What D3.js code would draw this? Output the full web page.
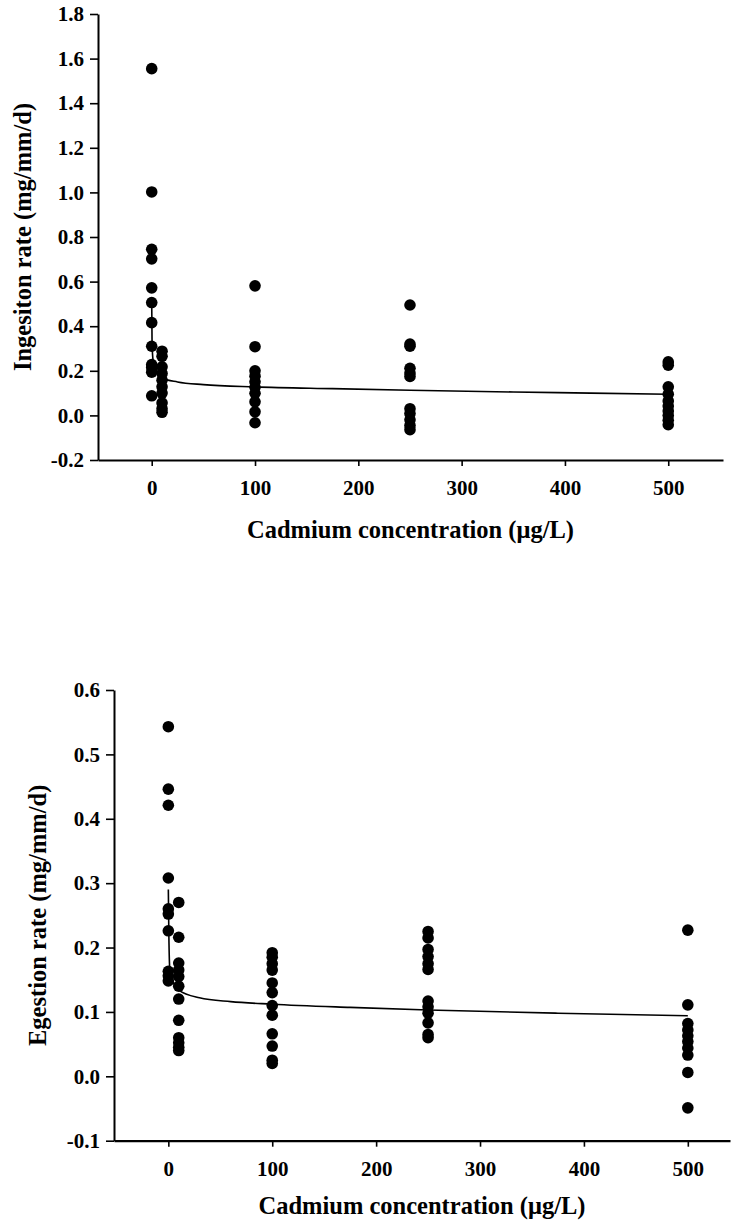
<!DOCTYPE html>
<html>
<head>
<meta charset="utf-8">
<script src="https://cdn.jsdelivr.net/npm/d3@7"></script>
<style>
  html, body { margin: 0; padding: 0; background: #fff; }
  svg { display: block; }
  .tick text { font-family: "Liberation Serif", "Times New Roman", serif; font-weight: bold; font-size: 21px; fill: #000; }
  .title { font-family: "Liberation Serif", "Times New Roman", serif; font-weight: bold; font-size: 24.5px; fill: #000; }
</style>
</head>
<body>
<svg id="chart" width="731" height="1230"></svg>
<script>
// ---------- DATA ----------
const concentrations = [0, 10, 100, 250, 500];
const xTickValues = [0, 100, 200, 300, 400, 500];

// Ingestion rate (mg/mm/d) per concentration group
const ingestion0   = [1.555, 1.002, 0.745, 0.702, 0.572, 0.506, 0.416, 0.310, 0.228, 0.215, 0.194, 0.088];
const ingestion10  = [0.288, 0.265, 0.218, 0.188, 0.158, 0.128, 0.100, 0.056, 0.030, 0.014];
const ingestion100 = [0.581, 0.308, 0.200, 0.176, 0.151, 0.126, 0.099, 0.061, 0.016, -0.033];
const ingestion250 = [0.495, 0.320, 0.310, 0.211, 0.190, 0.175, 0.030, 0.008, -0.020, -0.045, -0.064];
const ingestion500 = [0.240, 0.225, 0.128, 0.095, 0.065, 0.042, 0.020, 0.000, -0.022, -0.042];
const ingestionFitX = [0, 0.3, 1, 3, 10, 25, 50, 100, 175, 250, 350, 425, 500];
const ingestionFitY = [0.51, 0.34, 0.26, 0.21, 0.168, 0.150, 0.138, 0.128, 0.120, 0.113, 0.105, 0.100, 0.095];
const ingestionYTicks = [-0.2, 0.0, 0.2, 0.4, 0.6, 0.8, 1.0, 1.2, 1.4, 1.6, 1.8];

// Egestion rate (mg/mm/d) per concentration group
const egestion0   = [0.543, 0.446, 0.421, 0.308, 0.260, 0.252, 0.226, 0.163, 0.156, 0.148];
const egestion10  = [0.270, 0.216, 0.176, 0.165, 0.155, 0.140, 0.120, 0.087, 0.060, 0.052, 0.045, 0.040];
const egestion100 = [0.192, 0.185, 0.175, 0.165, 0.145, 0.130, 0.110, 0.095, 0.066, 0.047, 0.025, 0.020];
const egestion250 = [0.225, 0.215, 0.197, 0.186, 0.175, 0.166, 0.117, 0.108, 0.098, 0.083, 0.065, 0.060];
const egestion500 = [0.227, 0.111, 0.082, 0.072, 0.063, 0.054, 0.044, 0.033, 0.006, -0.049];
const egestionFitX = [0, 0.5, 1.5, 5, 10, 30, 60, 100, 175, 250, 375, 500];
const egestionFitY = [0.29, 0.22, 0.165, 0.145, 0.134, 0.122, 0.116, 0.112, 0.107, 0.103, 0.098, 0.094];
const egestionYTicks = [-0.1, 0.0, 0.1, 0.2, 0.3, 0.4, 0.5, 0.6];

const xTitle = "Cadmium concentration (\u03bcg/L)";
const ingestionTitle = "Ingesiton rate (mg/mm/d)";
const egestionTitle = "Egestion rate (mg/mm/d)";

// ---------- DRAW ----------
const svg = d3.select("#chart");

function toPoints(groups) {
  const pts = [];
  groups.forEach((vals, i) => vals.forEach(v => pts.push({x: concentrations[i], y: v})));
  return pts;
}

function drawPanel(cfg) {
  const g = svg.append("g");
  const x = d3.scaleLinear().domain(cfg.xDomain).range(cfg.xRange);
  const y = d3.scaleLinear().domain(cfg.yDomain).range(cfg.yRange);

  // y axis
  const yAxis = d3.axisLeft(y).tickValues(cfg.yTicks).tickSize(8).tickSizeOuter(0).tickPadding(6)
    .tickFormat(d3.format(".1f"));
  const ya = g.append("g").attr("transform", `translate(${cfg.xRange[0]},0)`).call(yAxis);
  ya.select(".domain").attr("stroke", "#000").attr("stroke-width", 2);
  ya.selectAll(".tick line").attr("stroke", "#000").attr("stroke-width", 1.6);
  ya.selectAll(".tick text").text(d => d3.format(".1f")(d).replace("\u2212", "-"));

  // x axis
  const xAxis = d3.axisBottom(x).tickValues(xTickValues).tickSize(6).tickSizeOuter(0).tickPadding(14);
  const xa = g.append("g").attr("transform", `translate(0,${cfg.yRange[0]})`).call(xAxis);
  xa.select(".domain").attr("stroke", "#000").attr("stroke-width", 2.2);
  xa.selectAll(".tick line").attr("stroke", "#000").attr("stroke-width", 1.6);

  // fitted curve
  const fit = cfg.fitX.map((fx, i) => [fx, cfg.fitY[i]]);
  g.append("path")
    .datum(fit)
    .attr("fill", "none")
    .attr("stroke", "#000")
    .attr("stroke-width", 1.6)
    .attr("d", d3.line().x(d => x(d[0])).y(d => y(d[1])).curve(d3.curveMonotoneX));

  // dots
  g.selectAll("circle.dot")
    .data(toPoints(cfg.groups))
    .join("circle")
    .attr("class", "dot")
    .attr("cx", d => x(d.x))
    .attr("cy", d => y(d.y))
    .attr("r", 5.8)
    .attr("fill", "#000");

  // titles
  g.append("text").attr("class", "title")
    .attr("x", (cfg.xRange[0] + cfg.xRange[1]) / 2)
    .attr("y", cfg.xTitleY)
    .attr("text-anchor", "middle")
    .text(xTitle);
  g.append("text").attr("class", "title")
    .attr("transform", `translate(${cfg.yTitleX},${(cfg.yRange[0] + cfg.yRange[1]) / 2}) rotate(-90)`)
    .attr("text-anchor", "middle")
    .text(cfg.yTitle);
}

drawPanel({
  xDomain: [-52, 553], xRange: [98, 723],
  yDomain: [-0.2, 1.8], yRange: [460, 14],
  yTicks: ingestionYTicks,
  groups: [ingestion0, ingestion10, ingestion100, ingestion250, ingestion500],
  fitX: ingestionFitX, fitY: ingestionFitY,
  xTitleY: 538, yTitleX: 31, yTitle: ingestionTitle
});

drawPanel({
  xDomain: [-52.3, 540.6], xRange: [114, 730],
  yDomain: [-0.1, 0.6], yRange: [1140.7, 690],
  yTicks: egestionYTicks,
  groups: [egestion0, egestion10, egestion100, egestion250, egestion500],
  fitX: egestionFitX, fitY: egestionFitY,
  xTitleY: 1214, yTitleX: 46, yTitle: egestionTitle
});
</script>
</body>
</html>
